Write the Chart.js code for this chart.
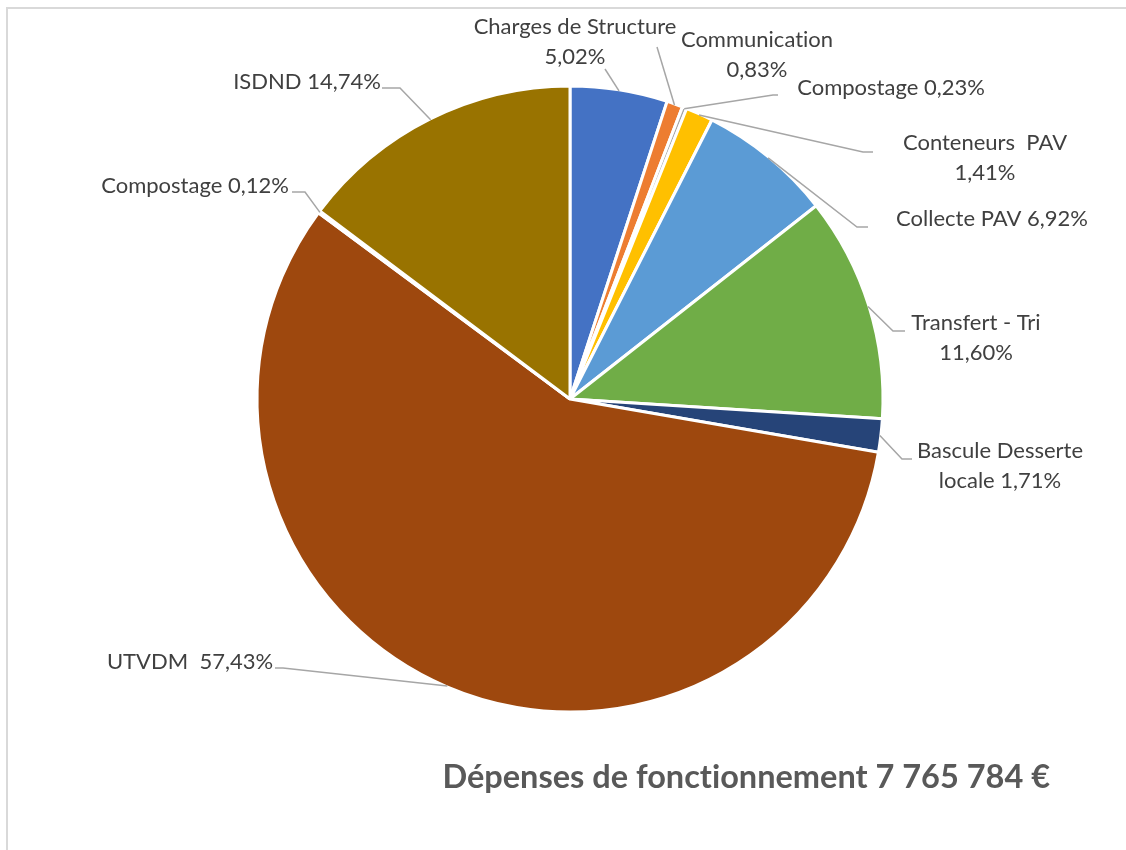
<!DOCTYPE html>
<html lang="fr">
<head>
<meta charset="utf-8">
<title>Dépenses de fonctionnement</title>
<script src="https://cdn.jsdelivr.net/npm/chart.js@4.4.1/dist/chart.umd.min.js"></script>
<style>
  html, body { margin: 0; padding: 0; background: #fff; overflow: hidden; }
  #frame { position: absolute; left: 6px; top: 7px; width: 1200px; height: 900px; border: 2px solid #d9d9d9; box-sizing: border-box; }
  #chart { position: absolute; left: 0; top: 0; }
</style>
</head>
<body>
<div id="frame"></div>
<canvas id="chart" width="1126" height="850"></canvas>
<script>
const categories = ["Charges de Structure", "Communication", "Compostage", "Conteneurs  PAV", "Collecte PAV", "Transfert - Tri", "Bascule Desserte locale", "UTVDM ", "Compostage", "ISDND"];
const shares = [5.02, 0.83, 0.23, 1.41, 6.92, 11.60, 1.71, 57.43, 0.12, 14.74];
const sliceColors = ["#4472c4", "#ed7d31", "#a5a5a5", "#ffc000", "#5b9bd5", "#70ad47", "#264478", "#9e480e", "#636363", "#997300"];
const chartTitle = "Dépenses de fonctionnement 7 765 784 €";

// where the data labels sit: text centre, words kept on the first line, leader path after the slice anchor
const labelLayout = [
  { x: 575, y: 42, firstLine: 3, path: [[605, 69]] },
  { x: 757, y: 55, firstLine: 1, path: [[657, 47]] },
  { x: 891, y: 88, firstLine: 0, path: [[773, 95], [778, 95]] },
  { x: 985, y: 158, firstLine: 3, path: [[863, 152], [873, 152]] },
  { x: 992, y: 219, firstLine: 0, path: [[857, 227], [868, 227]] },
  { x: 976, y: 338, firstLine: 3, path: [[893, 331], [905, 331]] },
  { x: 1000, y: 466, firstLine: 2, path: [[902, 459], [912, 459]] },
  { x: 190, y: 662, firstLine: 0, path: [[283, 668], [275, 668]] },
  { x: 195, y: 186, firstLine: 0, path: [[305, 192], [292, 192]] },
  { x: 307, y: 82, firstLine: 0, path: [[400, 88], [382, 88]] },
];

function formatShare(value) {
  return value.toFixed(2).replace(".", ",") + "%";
}

function labelLines(index) {
  const text = `${categories[index]} ${formatShare(shares[index])}`;
  const split = labelLayout[index].firstLine;
  if (!split) return [text];
  const words = text.split(" ");
  return [words.slice(0, split).join(" "), words.slice(split).join(" ")];
}

const leaderLabels = {
  id: "leaderLabels",
  beforeDraw(chart) {
    // no "ti" ligatures, closer to the original Calibri text
    chart.ctx.textRendering = "optimizeSpeed";
  },
  afterDatasetsDraw(chart) {
    const ctx = chart.ctx;
    const arcs = chart.getDatasetMeta(0).data;
    ctx.save();
    arcs.forEach((arc, i) => {
      const { x, y, startAngle, endAngle, outerRadius } = arc.getProps(["x", "y", "startAngle", "endAngle", "outerRadius"], true);
      const mid = (startAngle + endAngle) / 2;
      const layout = labelLayout[i];
      ctx.beginPath();
      ctx.moveTo(x + Math.cos(mid) * (outerRadius - 1), y + Math.sin(mid) * (outerRadius - 1));
      layout.path.forEach(([px, py]) => ctx.lineTo(px, py));
      ctx.strokeStyle = "#a6a6a6";
      ctx.lineWidth = 1.5;
      ctx.stroke();

      const lines = labelLines(i);
      ctx.font = "22px Lato, 'Open Sans', sans-serif";
      ctx.fillStyle = "#404040";
      ctx.textAlign = "center";
      ctx.textBaseline = "middle";
      const step = 30;
      const top = layout.y - ((lines.length - 1) * step) / 2;
      lines.forEach((line, k) => ctx.fillText(line, layout.x, top + k * step));
    });
    ctx.restore();
  },
};

new Chart(document.querySelector("#chart"), {
  type: "pie",
  data: {
    labels: categories,
    datasets: [
      {
        data: shares,
        backgroundColor: sliceColors,
        borderColor: "#ffffff",
        borderWidth: 3,
      },
    ],
  },
  options: {
    responsive: false,
    animation: false,
    radius: 313,
    layout: { padding: { left: 90, right: 76, top: 88, bottom: 0 } },
    plugins: {
      legend: { display: false },
      tooltip: { enabled: false },
      title: {
        display: true,
        text: chartTitle,
        position: "bottom",
        align: "end",
        color: "#595959",
        font: { family: "Lato, 'Open Sans', sans-serif", size: 32.5, weight: "bold" },
        padding: { top: 48, bottom: 53 },
      },
    },
  },
  plugins: [leaderLabels],
});
</script>
</body>
</html>
